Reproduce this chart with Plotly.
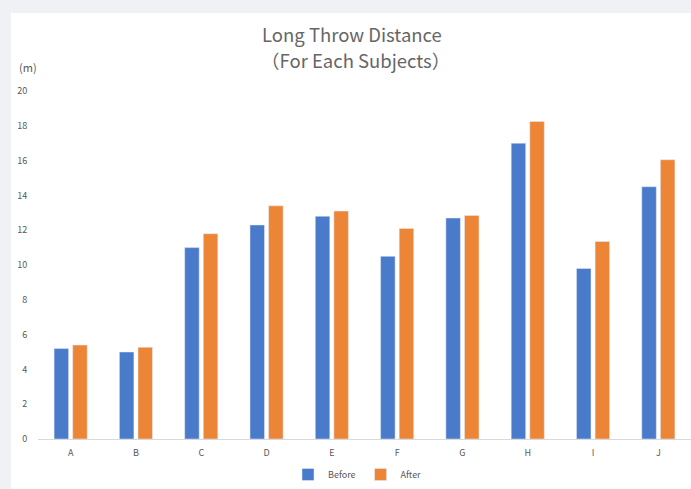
import plotly.graph_objects as go

# Long throw distance per subject, before and after
subjects = ["A", "B", "C", "D", "E", "F", "G", "H", "I", "J"]
before = [5.2, 5.0, 11.0, 12.3, 12.8, 10.5, 12.7, 17.0, 9.8, 14.5]
after = [5.4, 5.27, 11.8, 13.4, 13.1, 12.1, 12.85, 18.25, 11.35, 16.05]
y_ticks = [0, 2, 4, 6, 8, 10, 12, 14, 16, 18, 20]

W, H = 691, 489
ML, MR, MT, MB = 38, 0, 90.5, 48
PW, PH = W - ML - MR, H - MT - MB


def px(x):
    return (x - ML) / PW


def py(y):
    return (H - MB - y) / PH


FONT = "Noto Sans CJK JP"
GREY = "#595959"
TITLE_GREY = "#666666"

fig = go.Figure()
fig.add_trace(go.Bar(x=subjects, y=before, name="Before", marker_color="#4a7bcb"))
fig.add_trace(go.Bar(x=subjects, y=after, name="After", marker_color="#ed8537"))

fig.update_layout(
    width=W,
    height=H,
    margin=dict(l=ML, r=MR, t=MT, b=MB, pad=0),
    paper_bgcolor="#eff1f4",
    plot_bgcolor="rgba(0,0,0,0)",
    barmode="group",
    bargap=0.43,
    bargroupgap=0.22,
    font=dict(family=FONT, color=GREY, size=9),
    hovermode=False,
    showlegend=True,
    legend=dict(
        orientation="h",
        x=px(288),
        xanchor="left",
        y=py(477),
        yanchor="middle",
        font=dict(size=9, color=GREY),
        itemwidth=30,
        bgcolor="rgba(0,0,0,0)",
    ),
    shapes=[
        dict(
            type="rect",
            xref="paper",
            yref="paper",
            x0=px(11),
            x1=px(W + 2),
            y0=py(H + 2),
            y1=py(12),
            fillcolor="white",
            line=dict(width=0),
            layer="below",
        )
    ],
    annotations=[
        dict(
            text="Long Throw Distance",
            xref="paper",
            yref="paper",
            x=px(352),
            y=py(33),
            xanchor="center",
            yanchor="middle",
            showarrow=False,
            font=dict(size=18.5, color=TITLE_GREY, family=FONT),
        ),
        dict(
            text="（For Each Subjects）",
            xref="paper",
            yref="paper",
            x=px(355),
            y=py(59),
            xanchor="center",
            yanchor="middle",
            showarrow=False,
            font=dict(size=18.5, color=TITLE_GREY, family=FONT),
        ),
        dict(
            text="(m)",
            xref="paper",
            yref="paper",
            x=px(17),
            y=py(66),
            xanchor="left",
            yanchor="middle",
            showarrow=False,
            font=dict(size=11, color=GREY, family=FONT),
        ),
    ],
)

fig.update_xaxes(
    showgrid=False,
    showline=True,
    linecolor="#d9d9d9",
    linewidth=1,
    ticks="outside",
    ticklen=5,
    tickcolor="rgba(0,0,0,0)",
    tickfont=dict(size=9, color=GREY),
    fixedrange=True,
)
fig.update_yaxes(
    range=[0, 20],
    tickvals=y_ticks,
    showgrid=False,
    zeroline=False,
    showline=False,
    ticks="outside",
    ticklen=8,
    tickcolor="rgba(0,0,0,0)",
    tickfont=dict(size=9, color=GREY),
    fixedrange=True,
)

fig.write_html("out.html", config={"displayModeBar": False})
